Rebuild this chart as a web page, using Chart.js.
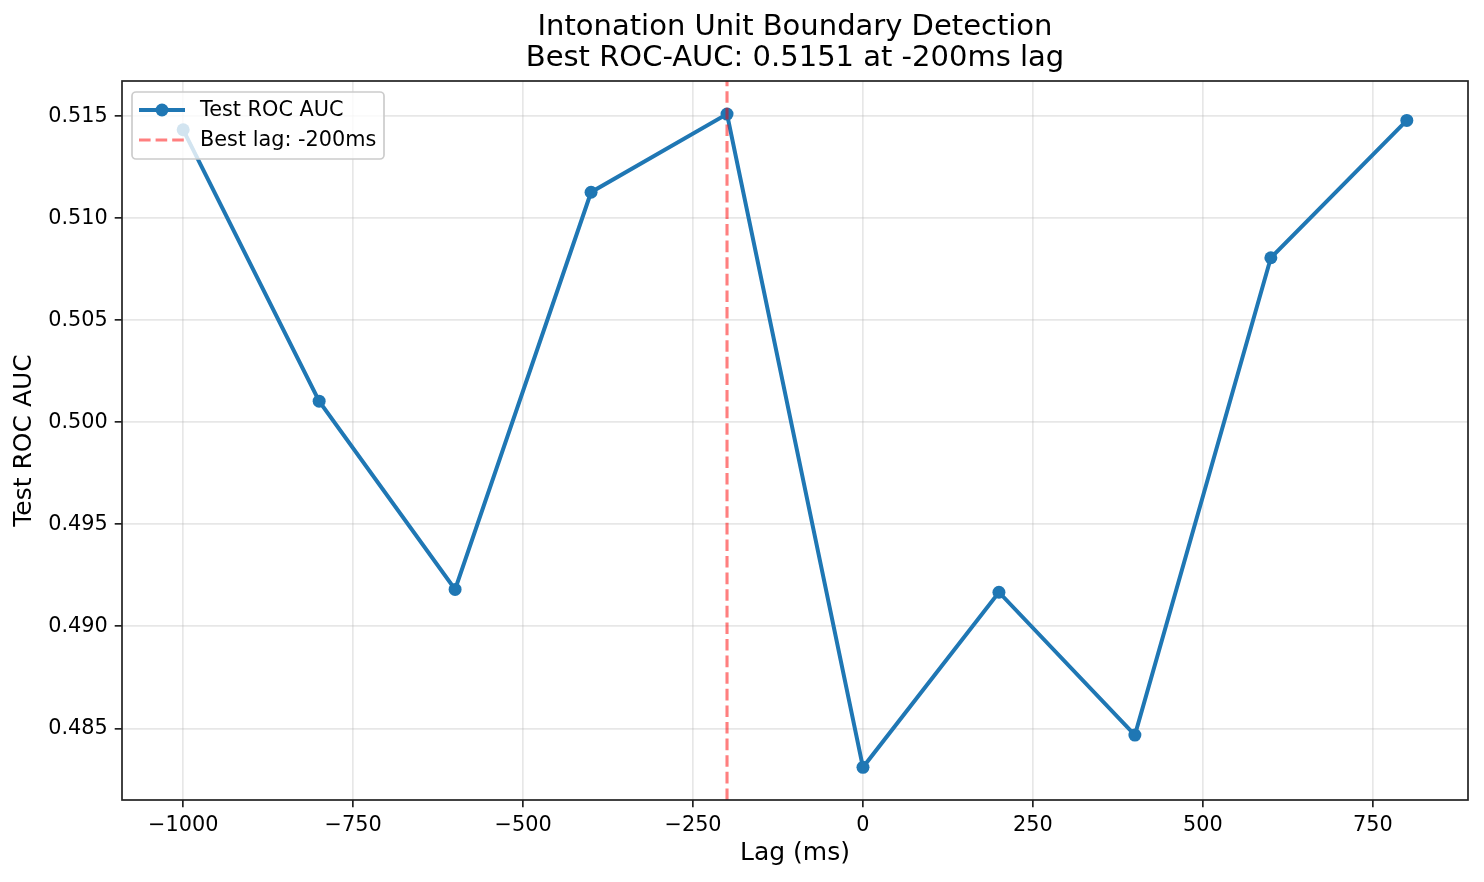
<!DOCTYPE html>
<html>
<head>
<meta charset="utf-8">
<script src="https://cdn.jsdelivr.net/npm/chart.js@4"></script>
<style>
  body { margin: 0; background: #fff; }
  #wrap { width: 1484px; height: 882px; }
</style>
</head>
<body>
<div id="wrap"><canvas id="chartLag"></canvas></div>
<script>
// data
const lags = [-1000, -800, -600, -400, -200, 0, 200, 400, 600, 800];
const rocAuc = [0.51433, 0.50103, 0.49181, 0.51127, 0.5151, 0.48309, 0.49167, 0.48467, 0.50806, 0.51479];
const bestLag = -200;
const xTicks = [-1000, -750, -500, -250, 0, 250, 500, 750];
const yTicks = [0.485, 0.490, 0.495, 0.500, 0.505, 0.510, 0.515];
const xRange = [-1090, 890];
const yRange = [0.48149, 0.51672];
const titleLines = ["Intonation Unit Boundary Detection", "Best ROC-AUC: 0.5151 at -200ms lag"];

const FONT = "DejaVu Sans";
const BLUE = "#1f77b4";
const RED = "rgba(255,0,0,0.5)";

// frame around the plot + legend in the upper-left corner
const framePlugin = {
    id: "frame",
    afterDatasetsDraw(chart) {
        const { ctx, chartArea: a } = chart;
        ctx.save();
        ctx.strokeStyle = "#222";
        ctx.lineWidth = 1.7;
        ctx.strokeRect(a.left, a.top, a.right - a.left, a.bottom - a.top);
        ctx.restore();
    },
    afterDraw(chart) {
        const { ctx, chartArea: a } = chart;
        const sets = chart.data.datasets;
        const x0 = a.left + 10, y0 = a.top + 11;
        const w = 252, h = 67, rowH = 30;
        ctx.save();
        ctx.beginPath();
        ctx.roundRect(x0, y0, w, h, 4);
        ctx.fillStyle = "rgba(255,255,255,0.8)";
        ctx.fill();
        ctx.strokeStyle = "#cccccc";
        ctx.lineWidth = 1.7;
        ctx.stroke();
        ctx.font = "20.8px '" + FONT + "'";
        ctx.textBaseline = "middle";
        sets.forEach((ds, i) => {
            const cy = y0 + 18 + i * rowH;
            ctx.beginPath();
            ctx.strokeStyle = ds.borderColor;
            ctx.lineWidth = ds.borderWidth;
            ctx.setLineDash(ds.borderDash || []);
            ctx.moveTo(x0 + 7, cy);
            ctx.lineTo(x0 + 53, cy);
            ctx.stroke();
            ctx.setLineDash([]);
            if (ds.pointRadius > 0) {
                ctx.beginPath();
                ctx.fillStyle = ds.pointBackgroundColor;
                ctx.arc(x0 + 30, cy, ds.pointRadius, 0, Math.PI * 2);
                ctx.fill();
            }
            ctx.fillStyle = "#000";
            ctx.fillText(ds.label, x0 + 68, cy + 1);
        });
        ctx.restore();
    }
};

window.onload = () => {
    new Chart(document.getElementById("chartLag"), {
        type: "line",
        data: {
            datasets: [
                {
                    label: "Test ROC AUC",
                    data: lags.map((l, i) => ({ x: l, y: rocAuc[i] })),
                    borderColor: BLUE,
                    backgroundColor: BLUE,
                    borderWidth: 4,
                    pointRadius: 6.5,
                    pointHoverRadius: 6.5,
                    pointBackgroundColor: BLUE,
                    pointBorderWidth: 0,
                    tension: 0,
                    order: 1
                },
                {
                    label: "Best lag: " + bestLag + "ms",
                    data: [{ x: bestLag, y: yRange[0] }, { x: bestLag, y: yRange[1] }],
                    borderColor: RED,
                    borderWidth: 3.1,
                    borderDash: [11.6, 5],
                    pointRadius: 0,
                    order: 0
                }
            ]
        },
        options: {
            responsive: true,
            maintainAspectRatio: false,
            animation: false,
            layout: { padding: { top: 0, right: 16, bottom: 0, left: 0 } },
            plugins: {
                legend: { display: false },
                tooltip: { enabled: false },
                title: {
                    display: true,
                    fullSize: false,
                    text: titleLines,
                    color: "#000",
                    font: { family: FONT, size: 29, weight: "normal", lineHeight: "31.7px" },
                    padding: { top: 11.2, bottom: 6.4 }
                }
            },
            scales: {
                x: {
                    type: "linear",
                    min: xRange[0],
                    max: xRange[1],
                    afterBuildTicks: s => { s.ticks = xTicks.map(v => ({ value: v })); },
                    afterFit: s => { s.height = 82; },
                    border: { display: false },
                    grid: {
                        color: "rgba(176,176,176,0.3)",
                        lineWidth: 1.7,
                        tickColor: "#222",
                        tickWidth: 1.7,
                        tickLength: 7.3
                    },
                    ticks: {
                        color: "#000",
                        padding: 6,
                        maxRotation: 0,
                        font: { family: FONT, size: 20.8 },
                        callback: v => String(v).replace("-", "\u2212")
                    },
                    title: {
                        display: true,
                        text: "Lag (ms)",
                        color: "#000",
                        font: { family: FONT, size: 25, lineHeight: 1.2 },
                        padding: { top: 0, bottom: 14 }
                    }
                },
                y: {
                    min: yRange[0],
                    max: yRange[1],
                    afterBuildTicks: s => { s.ticks = yTicks.map(v => ({ value: v })); },
                    afterFit: s => { s.width = 122; },
                    border: { display: false },
                    grid: {
                        color: "rgba(176,176,176,0.3)",
                        lineWidth: 1.7,
                        tickColor: "#222",
                        tickWidth: 1.7,
                        tickLength: 7.3
                    },
                    ticks: {
                        color: "#000",
                        padding: 7,
                        font: { family: FONT, size: 20.8 },
                        callback: v => v.toFixed(3)
                    },
                    title: {
                        display: true,
                        text: "Test ROC AUC",
                        color: "#000",
                        font: { family: FONT, size: 25, lineHeight: 1.2 },
                        padding: { top: 9, bottom: 0 }
                    }
                }
            }
        },
        plugins: [framePlugin]
    });
};
</script>
</body>
</html>
